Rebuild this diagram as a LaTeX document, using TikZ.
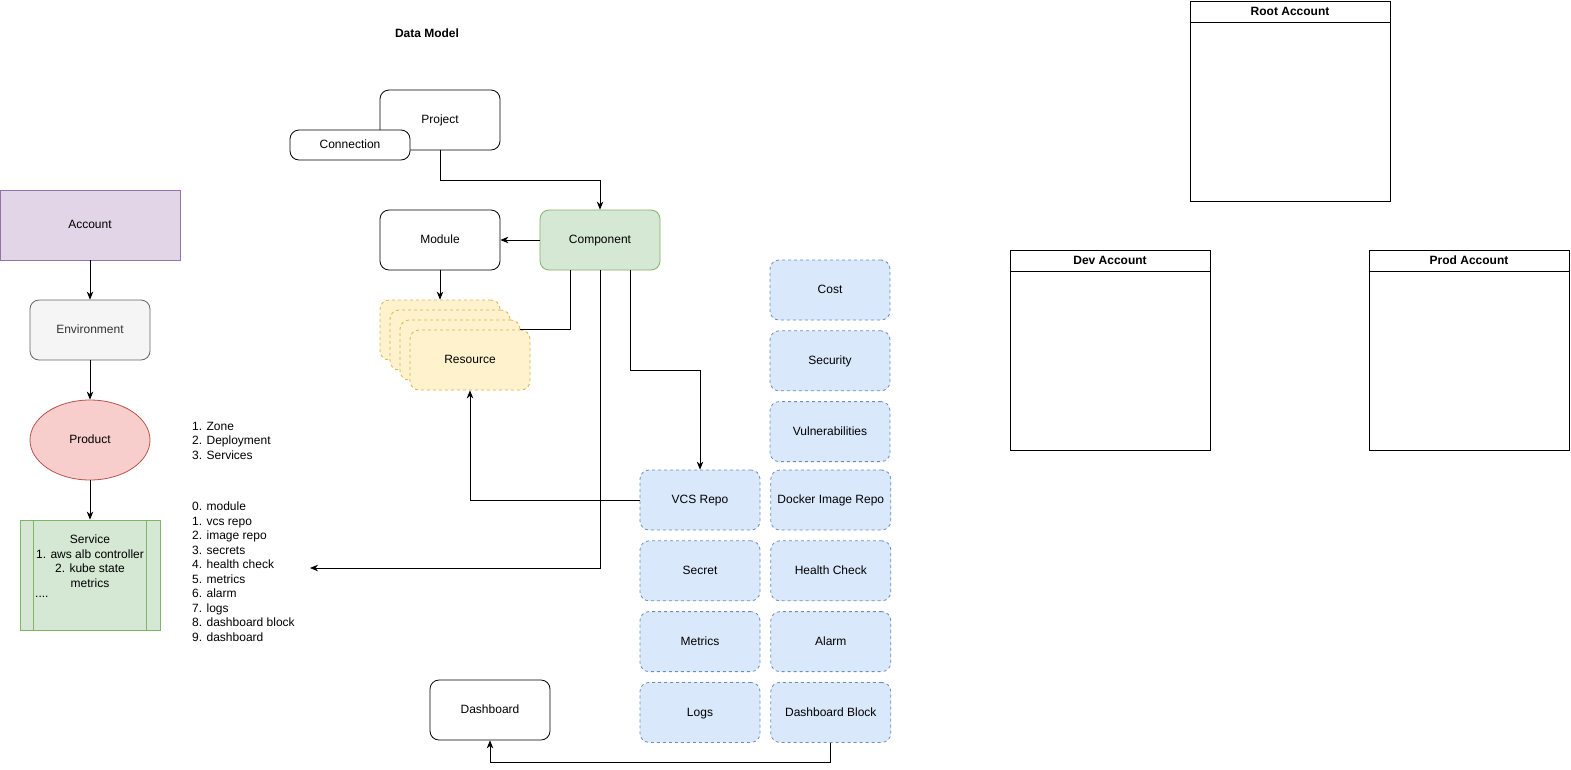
\documentclass[tikz,border=0pt]{standalone}
\usepackage{fontspec}
\setmainfont{Liberation Sans}
\usetikzlibrary{arrows.meta, shapes.geometric, positioning}

\definecolor{purpleFill}{HTML}{E1D5E7}
\definecolor{purpleLine}{HTML}{9673A6}
\definecolor{greyFill}{HTML}{F5F5F5}
\definecolor{greyLine}{HTML}{666666}
\definecolor{greyText}{HTML}{333333}
\definecolor{redFill}{HTML}{F8CECC}
\definecolor{redLine}{HTML}{B85450}
\definecolor{greenFill}{HTML}{D5E8D4}
\definecolor{greenLine}{HTML}{82B366}
\definecolor{yellowFill}{HTML}{FFF2CC}
\definecolor{yellowLine}{HTML}{D6B656}
\definecolor{blueFill}{HTML}{DAE8FC}
\definecolor{blueLine}{HTML}{6C8EBF}

\begin{document}
\begin{tikzpicture}[x=1pt,y=-1pt,
    font=\fontsize{12}{14.5}\selectfont,
    node distance=10pt,
    box/.style={draw, line width=0.8pt, rounded corners=9pt, fill=white,
      minimum width=120pt, minimum height=60pt, inner sep=0pt,
      text height=9.4pt, text depth=1.8pt},
    greenbox/.style={box, fill=greenFill, draw=greenLine},
    stackbox/.style={box, fill=yellowFill, draw=yellowLine, dash pattern=on 3pt off 3pt},
    bluebox/.style={box, fill=blueFill, draw=blueLine, dash pattern=on 3pt off 3pt},
    lane/.style={draw, line width=0.8pt, minimum width=200pt, minimum height=200pt, inner sep=0pt},
    lanetitle/.style={font=\fontsize{12}{14.5}\selectfont\bfseries,
      text height=9.4pt, text depth=1.8pt},
    textlist/.style={align=left, anchor=north west, inner sep=0pt},
    line/.style={line width=0.8pt},
    link/.style={line width=0.8pt, -{Stealth[length=8pt,width=6.5pt,inset=2.5pt]}}]
    \useasboundingbox (0,0) rectangle (1571,769);

    % left column
    \node[draw=purpleLine, fill=purpleFill, line width=0.8pt, minimum width=180pt,
      minimum height=70pt, inner sep=0pt, text height=9.4pt, text depth=1.8pt] (account) at (90,225) {Account};
    \node[box, fill=greyFill, draw=greyLine, text=greyText] (environment) at (90,330) {Environment};
    \node[ellipse, draw=redLine, fill=redFill, line width=0.8pt, minimum width=120pt,
      minimum height=80pt, inner sep=0pt, text height=9.4pt, text depth=1.8pt] (product) at (90,440) {Product};
    \node[draw=greenLine, fill=greenFill, line width=0.8pt, minimum width=140pt,
      minimum height=110pt, inner sep=0pt] (service) at (90,575) {};
    \draw[greenLine, line width=0.8pt] ([xshift=14pt]service.north west) -- ([xshift=14pt]service.south west);
    \draw[greenLine, line width=0.8pt] ([xshift=-14pt]service.north east) -- ([xshift=-14pt]service.south east);
    \node[align=center, inner sep=0pt] (servicetext) at (90,561)
      {Service\\1. aws alb controller\\2. kube state\\metrics};
    \node[anchor=west, inner sep=0pt] (servicedots) at (35,597) {....};

    \draw[link] (account.south) -- (environment.north);
    \draw[link] (environment.south) -- (product.north);
    \draw[link] (product.south) -- (service.north);

    \node[textlist] (zonelist) at (192,422) {1. Zone\\2. Deployment\\3. Services};
    \node[textlist] (partlist) at (192,502) {0. module\\1. vcs repo\\2. image repo\\3. secrets\\
      4. health check\\5. metrics\\6. alarm\\7. logs\\8. dashboard block\\9. dashboard};

    % data model
    \node[lanetitle] (title) at (427,34) {Data Model};
    \node[box] (project) at (440,120) {Project};
    \node[box, minimum height=30pt] (connection) at (350,145) {Connection};
    \node[box] (module) at (440,240) {Module};
    \node[greenbox] (component) at (600,240) {Component};
    \node[stackbox] (res1) at (440,330) {};
    \node[stackbox] (res2) at (450,340) {};
    \node[stackbox] (res3) at (460,350) {};
    \node[stackbox] (res4) at (470,360) {Resource};
    \node[box] (dashboard) at (490,710) {Dashboard};

    \node[bluebox] (vcs) at (700,500) {VCS Repo};
    \node[bluebox, below=of vcs] (secret) {Secret};
    \node[bluebox, below=of secret] (metrics) {Metrics};
    \node[bluebox, below=of metrics] (logs) {Logs};
    \node[bluebox] (cost) at (830,290) {Cost};
    \node[bluebox, below=of cost] (security) {Security};
    \node[bluebox, below=of security] (vulns) {Vulnerabilities};
    \node[bluebox, right=of vcs] (docker) {Docker Image Repo};
    \node[bluebox, right=of secret] (health) {Health Check};
    \node[bluebox, right=of metrics] (alarm) {Alarm};
    \node[bluebox, right=of logs] (dblock) {Dashboard Block};

    \coordinate (listend) at (310,568);
    \draw[link] (project.south) -- ++(0,30) -| (component.north);
    \draw[link] (component.west) -- (module.east);
    \draw[link] (module.south) -- (res1.north);
    \draw[line] ([xshift=-30pt]component.south) |- ([yshift=-10pt]res3.north east);
    \draw[link] (component.south) |- (listend);
    \draw[link] ([xshift=30pt]component.south) -- ++(0,100) -| (vcs.north);
    \draw[link] (vcs.west) -| (res4.south);
    \draw[link] (dblock.south) -- ++(0,20) -| (dashboard.south);

    % accounts
    \node[lane] (root) at (1290,101) {};
    \node[lane] (dev) at (1110,350) {};
    \node[lane] (prod) at (1469,350) {};
    \draw[line] ([yshift=-22pt]root.north west) -- ([yshift=-22pt]root.north east);
    \draw[line] ([yshift=-22pt]dev.north west) -- ([yshift=-22pt]dev.north east);
    \draw[line] ([yshift=-22pt]prod.north west) -- ([yshift=-22pt]prod.north east);
    \node[lanetitle] (roottitle) at ([yshift=-11pt]root.north) {Root Account};
    \node[lanetitle] (devtitle) at ([yshift=-11pt]dev.north) {Dev Account};
    \node[lanetitle] (prodtitle) at ([yshift=-11pt]prod.north) {Prod Account};
\end{tikzpicture}
\end{document}
